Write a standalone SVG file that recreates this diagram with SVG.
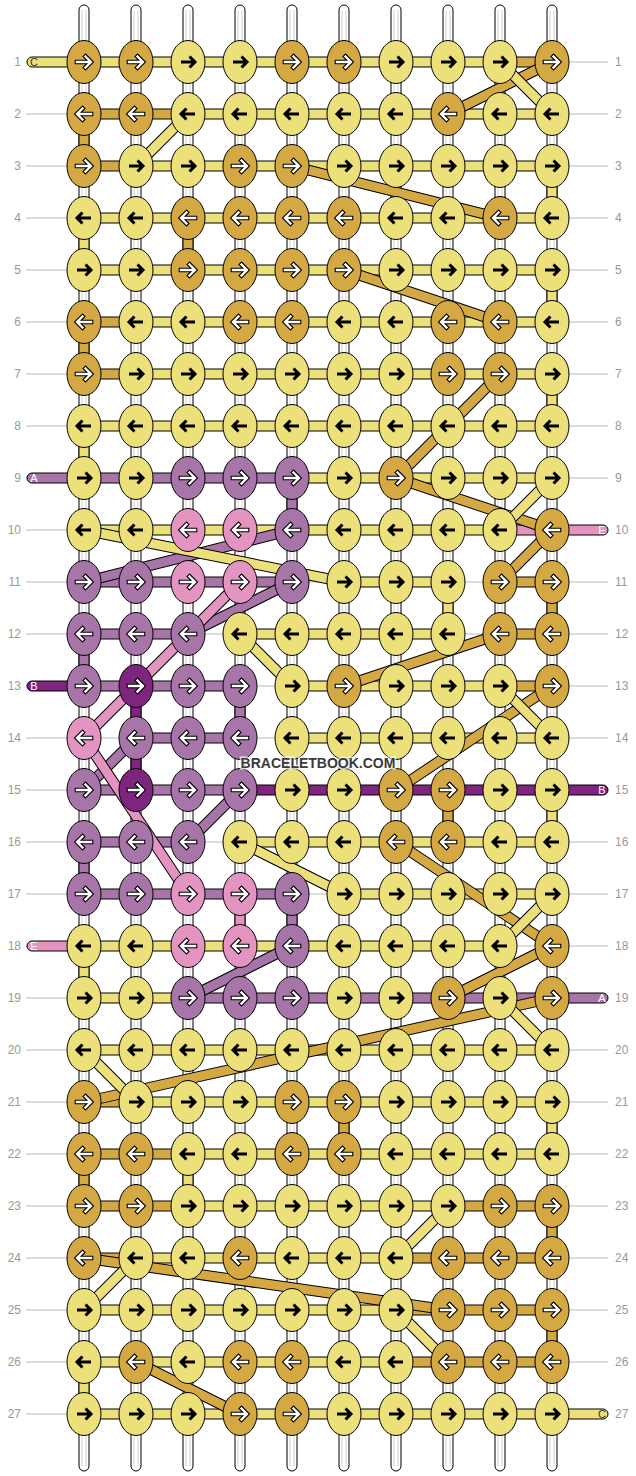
<svg xmlns="http://www.w3.org/2000/svg" width="636" height="1476" viewBox="0 0 636 1476">
<style>
.gl{stroke:#bbb;stroke-width:1}
.rl{font-family:"Liberation Sans",Arial,sans-serif;font-size:12px;fill:#999}
.rr{font-family:"Liberation Sans",Arial,sans-serif;font-size:12px;fill:#999}
.rl{text-anchor:end}
.st{fill:#fff;stroke:#000;stroke-width:1}
.si{stroke:#d2d2d2;stroke-width:1}
.b{stroke:#000;stroke-width:1}
.y{fill:#ECE07B}.g{fill:#D4A843}.p{fill:#A875A8}.d{fill:#7F2580}.k{fill:#E394C0}
.o{fill:none;stroke:#000;stroke-width:11}
.dy{fill:none;stroke:#ECE07B;stroke-width:9}
.dg{fill:none;stroke:#D4A843;stroke-width:9}
.dp{fill:none;stroke:#A875A8;stroke-width:9}
.dk{fill:none;stroke:#E394C0;stroke-width:9}
.ab{fill:none;stroke:#000;stroke-width:3}
.wo{fill:none;stroke:#000;stroke-width:4.6;stroke-linecap:square}
.wi{fill:none;stroke:#fff;stroke-width:2.4;stroke-linecap:square}
.lt{font-family:"Liberation Sans",Arial,sans-serif;font-size:11px;text-anchor:middle}
.wm{font-family:"Liberation Sans",Arial,sans-serif;font-size:14px;font-weight:bold;fill:#3a3a3a;text-anchor:middle;stroke:#fff;stroke-width:3;stroke-opacity:0.75;paint-order:stroke}
</style>
<defs>
<ellipse id="el" rx="17" ry="21.5" stroke="#000" stroke-width="1"/>
<path id="ar" d="M-7,0H6M1.5,-5.5L7,0L1.5,5.5"/>
<path id="al" d="M7,0H-6M-1.5,-5.5L-7,0L-1.5,5.5"/>
<g id="YR"><use href="#el" class="y"/><use href="#ar" class="ab"/></g>
<g id="YL"><use href="#el" class="y"/><use href="#al" class="ab"/></g>
<g id="GR"><use href="#el" class="g"/><use href="#ar" class="wo"/><use href="#ar" class="wi"/></g>
<g id="GL"><use href="#el" class="g"/><use href="#al" class="wo"/><use href="#al" class="wi"/></g>
<g id="PR"><use href="#el" class="p"/><use href="#ar" class="wo"/><use href="#ar" class="wi"/></g>
<g id="PL"><use href="#el" class="p"/><use href="#al" class="wo"/><use href="#al" class="wi"/></g>
<g id="DR"><use href="#el" class="d"/><use href="#ar" class="wo"/><use href="#ar" class="wi"/></g>
<g id="DL"><use href="#el" class="d"/><use href="#al" class="wo"/><use href="#al" class="wi"/></g>
<g id="KR"><use href="#el" class="k"/><use href="#ar" class="wo"/><use href="#ar" class="wi"/></g>
<g id="KL"><use href="#el" class="k"/><use href="#al" class="wo"/><use href="#al" class="wi"/></g>
</defs>
<rect width="636" height="1476" fill="#fff"/>
<g id="guides">
<path class="gl" d="M26,62H608M26,114H608M26,166H608M26,218H608M26,270H608M26,322H608M26,374H608M26,426H608M26,478H608M26,530H608M26,582H608M26,634H608M26,686H608M26,738H608M26,790H608M26,842H608M26,894H608M26,946H608M26,998H608M26,1050H608M26,1102H608M26,1154H608M26,1206H608M26,1258H608M26,1310H608M26,1362H608M26,1414H608"/>
</g>
<g id="row-labels">
<text class="rl" x="21" y="66.3">1</text><text class="rl" x="21" y="118.3">2</text><text class="rl" x="21" y="170.3">3</text><text class="rl" x="21" y="222.3">4</text><text class="rl" x="21" y="274.3">5</text><text class="rl" x="21" y="326.3">6</text><text class="rl" x="21" y="378.3">7</text><text class="rl" x="21" y="430.3">8</text><text class="rl" x="21" y="482.3">9</text><text class="rl" x="21" y="534.3">10</text><text class="rl" x="21" y="586.3">11</text><text class="rl" x="21" y="638.3">12</text><text class="rl" x="21" y="690.3">13</text><text class="rl" x="21" y="742.3">14</text><text class="rl" x="21" y="794.3">15</text><text class="rl" x="21" y="846.3">16</text><text class="rl" x="21" y="898.3">17</text><text class="rl" x="21" y="950.3">18</text><text class="rl" x="21" y="1002.3">19</text><text class="rl" x="21" y="1054.3">20</text><text class="rl" x="21" y="1106.3">21</text><text class="rl" x="21" y="1158.3">22</text><text class="rl" x="21" y="1210.3">23</text><text class="rl" x="21" y="1262.3">24</text><text class="rl" x="21" y="1314.3">25</text><text class="rl" x="21" y="1366.3">26</text><text class="rl" x="21" y="1418.3">27</text>
<text class="rr" x="615" y="66.3">1</text><text class="rr" x="615" y="118.3">2</text><text class="rr" x="615" y="170.3">3</text><text class="rr" x="615" y="222.3">4</text><text class="rr" x="615" y="274.3">5</text><text class="rr" x="615" y="326.3">6</text><text class="rr" x="615" y="378.3">7</text><text class="rr" x="615" y="430.3">8</text><text class="rr" x="615" y="482.3">9</text><text class="rr" x="615" y="534.3">10</text><text class="rr" x="615" y="586.3">11</text><text class="rr" x="615" y="638.3">12</text><text class="rr" x="615" y="690.3">13</text><text class="rr" x="615" y="742.3">14</text><text class="rr" x="615" y="794.3">15</text><text class="rr" x="615" y="846.3">16</text><text class="rr" x="615" y="898.3">17</text><text class="rr" x="615" y="950.3">18</text><text class="rr" x="615" y="1002.3">19</text><text class="rr" x="615" y="1054.3">20</text><text class="rr" x="615" y="1106.3">21</text><text class="rr" x="615" y="1158.3">22</text><text class="rr" x="615" y="1210.3">23</text><text class="rr" x="615" y="1262.3">24</text><text class="rr" x="615" y="1314.3">25</text><text class="rr" x="615" y="1366.3">26</text><text class="rr" x="615" y="1418.3">27</text>
</g>
<g id="base-strings">
<rect class="st" x="79" y="5" width="10" height="1466" rx="5"/><rect class="st" x="131" y="5" width="10" height="1466" rx="5"/><rect class="st" x="183" y="5" width="10" height="1466" rx="5"/><rect class="st" x="235" y="5" width="10" height="1466" rx="5"/><rect class="st" x="287" y="5" width="10" height="1466" rx="5"/><rect class="st" x="339" y="5" width="10" height="1466" rx="5"/><rect class="st" x="391" y="5" width="10" height="1466" rx="5"/><rect class="st" x="443" y="5" width="10" height="1466" rx="5"/><rect class="st" x="495" y="5" width="10" height="1466" rx="5"/><rect class="st" x="547" y="5" width="10" height="1466" rx="5"/>
<path class="si" d="M82,10V1466M86,10V1466M134,10V1466M138,10V1466M186,10V1466M190,10V1466M238,10V1466M242,10V1466M290,10V1466M294,10V1466M342,10V1466M346,10V1466M394,10V1466M398,10V1466M446,10V1466M450,10V1466M498,10V1466M502,10V1466M550,10V1466M554,10V1466"/>
</g>
<g id="connectors">
<rect class="b y" x="27" y="57" width="62" height="10" rx="5"/>
<rect class="b p" x="27" y="473" width="62" height="10" rx="5"/>
<rect class="b d" x="27" y="681" width="62" height="10" rx="5"/>
<rect class="b k" x="27" y="941" width="62" height="10" rx="5"/>
<rect class="b k" x="547" y="525" width="61" height="10" rx="5"/>
<rect class="b d" x="547" y="785" width="61" height="10" rx="5"/>
<rect class="b p" x="547" y="993" width="61" height="10" rx="5"/>
<rect class="b y" x="547" y="1409" width="61" height="10" rx="5"/>
<rect class="b y" x="84" y="57" width="416" height="10"/><rect class="b g" x="500" y="57" width="52" height="10"/>
<rect class="b g" x="84" y="109" width="104" height="10"/><rect class="b y" x="188" y="109" width="364" height="10"/>
<rect class="b g" x="84" y="161" width="52" height="10"/><rect class="b y" x="136" y="161" width="416" height="10"/>
<rect class="b y" x="84" y="213" width="468" height="10"/>
<rect class="b y" x="84" y="265" width="468" height="10"/>
<rect class="b g" x="84" y="317" width="52" height="10"/><rect class="b y" x="136" y="317" width="416" height="10"/>
<rect class="b g" x="84" y="369" width="52" height="10"/><rect class="b y" x="136" y="369" width="416" height="10"/>
<rect class="b y" x="84" y="421" width="468" height="10"/>
<rect class="b p" x="84" y="473" width="208" height="10"/><rect class="b y" x="292" y="473" width="260" height="10"/>
<rect class="b y" x="84" y="525" width="416" height="10"/><rect class="b k" x="500" y="525" width="52" height="10"/>
<rect class="b p" x="84" y="577" width="208" height="10"/><rect class="b y" x="344" y="577" width="104" height="10"/><rect class="b g" x="500" y="577" width="52" height="10"/>
<rect class="b p" x="84" y="629" width="104" height="10"/><rect class="b y" x="240" y="629" width="208" height="10"/><rect class="b g" x="500" y="629" width="52" height="10"/>
<rect class="b p" x="84" y="681" width="156" height="10"/><rect class="b y" x="292" y="681" width="208" height="10"/><rect class="b g" x="500" y="681" width="52" height="10"/>
<rect class="b p" x="136" y="733" width="104" height="10"/><rect class="b y" x="292" y="733" width="260" height="10"/>
<rect class="b p" x="84" y="785" width="156" height="10"/><rect class="b d" x="240" y="785" width="312" height="10"/>
<rect class="b p" x="84" y="837" width="104" height="10"/><rect class="b y" x="240" y="837" width="312" height="10"/>
<rect class="b p" x="84" y="889" width="208" height="10"/><rect class="b y" x="344" y="889" width="208" height="10"/>
<rect class="b y" x="84" y="941" width="416" height="10"/>
<rect class="b y" x="84" y="993" width="104" height="10"/><rect class="b p" x="188" y="993" width="364" height="10"/>
<rect class="b y" x="84" y="1045" width="468" height="10"/>
<rect class="b g" x="84" y="1097" width="52" height="10"/><rect class="b y" x="136" y="1097" width="416" height="10"/>
<rect class="b g" x="84" y="1149" width="104" height="10"/><rect class="b y" x="188" y="1149" width="364" height="10"/>
<rect class="b g" x="84" y="1201" width="104" height="10"/><rect class="b y" x="188" y="1201" width="260" height="10"/><rect class="b g" x="448" y="1201" width="104" height="10"/>
<rect class="b g" x="84" y="1253" width="52" height="10"/><rect class="b y" x="136" y="1253" width="260" height="10"/><rect class="b g" x="396" y="1253" width="156" height="10"/>
<rect class="b y" x="84" y="1305" width="312" height="10"/><rect class="b g" x="396" y="1305" width="156" height="10"/>
<rect class="b y" x="84" y="1357" width="312" height="10"/><rect class="b g" x="396" y="1357" width="156" height="10"/>
<rect class="b y" x="84" y="1409" width="468" height="10"/>
<rect class="b g" x="79" y="114" width="10" height="52"/>
<rect class="b y" x="547" y="166" width="10" height="52"/>
<rect class="b y" x="79" y="218" width="10" height="52"/><rect class="b g" x="183" y="218" width="10" height="52"/>
<rect class="b y" x="547" y="270" width="10" height="52"/>
<rect class="b g" x="79" y="322" width="10" height="52"/>
<rect class="b y" x="547" y="374" width="10" height="52"/>
<rect class="b y" x="79" y="426" width="10" height="52"/>
<rect class="b p" x="287" y="478" width="10" height="52"/>
<rect class="b y" x="443" y="582" width="10" height="52"/><rect class="b g" x="547" y="582" width="10" height="52"/>
<rect class="b p" x="79" y="634" width="10" height="52"/>
<rect class="b d" x="131" y="686" width="10" height="52"/><rect class="b p" x="235" y="686" width="10" height="52"/>
<rect class="b d" x="131" y="738" width="10" height="52"/>
<rect class="b g" x="443" y="790" width="10" height="52"/><rect class="b y" x="547" y="790" width="10" height="52"/>
<rect class="b p" x="79" y="842" width="10" height="52"/>
<rect class="b k" x="235" y="894" width="10" height="52"/><rect class="b p" x="287" y="894" width="10" height="52"/>
<rect class="b y" x="79" y="946" width="10" height="52"/>
<rect class="b g" x="339" y="1102" width="10" height="52"/><rect class="b y" x="547" y="1102" width="10" height="52"/>
<rect class="b g" x="79" y="1154" width="10" height="52"/><rect class="b y" x="183" y="1154" width="10" height="52"/>
<rect class="b g" x="547" y="1206" width="10" height="52"/>
<rect class="b g" x="547" y="1310" width="10" height="52"/>
<rect class="b y" x="79" y="1362" width="10" height="52"/>
<path class="o" d="M188,114L136,166"/><path class="dy" d="M188,114L136,166"/>
<path class="o" d="M552,62L448,114"/><path class="dg" d="M552,62L448,114"/>
<path class="o" d="M500,62L552,114"/><path class="dy" d="M500,62L552,114"/>
<path class="o" d="M292,166L500,218"/><path class="dg" d="M292,166L500,218"/>
<path class="o" d="M344,270L500,322"/><path class="dg" d="M344,270L500,322"/>
<path class="o" d="M500,374L396,478"/><path class="dg" d="M500,374L396,478"/>
<path class="o" d="M396,478L552,530"/><path class="dg" d="M396,478L552,530"/>
<path class="o" d="M500,530L552,478"/><path class="dy" d="M500,530L552,478"/>
<path class="o" d="M552,530L500,582"/><path class="dg" d="M552,530L500,582"/>
<path class="o" d="M84,582L292,530"/><path class="dp" d="M84,582L292,530"/>
<path class="o" d="M84,530L344,582"/><path class="dy" d="M84,530L344,582"/>
<path class="o" d="M188,634L292,582"/><path class="dp" d="M188,634L292,582"/>
<path class="o" d="M84,738L240,582"/><path class="dk" d="M84,738L240,582"/>
<path class="o" d="M240,634L292,686"/><path class="dy" d="M240,634L292,686"/>
<path class="o" d="M500,634L344,686"/><path class="dg" d="M500,634L344,686"/>
<path class="o" d="M552,686L396,790"/><path class="dg" d="M552,686L396,790"/>
<path class="o" d="M500,686L552,738"/><path class="dy" d="M500,686L552,738"/>
<path class="o" d="M84,790L136,738"/><path class="dp" d="M84,790L136,738"/>
<path class="o" d="M84,738L188,894"/><path class="dk" d="M84,738L188,894"/>
<path class="o" d="M188,842L240,790"/><path class="dp" d="M188,842L240,790"/>
<path class="o" d="M240,842L344,894"/><path class="dy" d="M240,842L344,894"/>
<path class="o" d="M396,842L552,946"/><path class="dg" d="M396,842L552,946"/>
<path class="o" d="M500,946L552,894"/><path class="dy" d="M500,946L552,894"/>
<path class="o" d="M552,946L448,998"/><path class="dg" d="M552,946L448,998"/>
<path class="o" d="M188,998L292,946"/><path class="dp" d="M188,998L292,946"/>
<path class="o" d="M552,998L84,1102"/><path class="dg" d="M552,998L84,1102"/>
<path class="o" d="M500,998L552,1050"/><path class="dy" d="M500,998L552,1050"/>
<path class="o" d="M84,1050L136,1102"/><path class="dy" d="M84,1050L136,1102"/>
<path class="o" d="M448,1206L396,1258"/><path class="dy" d="M448,1206L396,1258"/>
<path class="o" d="M84,1258L448,1310"/><path class="dg" d="M84,1258L448,1310"/>
<path class="o" d="M84,1310L136,1258"/><path class="dy" d="M84,1310L136,1258"/>
<path class="o" d="M396,1310L448,1362"/><path class="dy" d="M396,1310L448,1362"/>
<path class="o" d="M136,1362L240,1414"/><path class="dg" d="M136,1362L240,1414"/>
</g>
<g id="string-labels">
<text class="lt" x="34" y="66" fill="#333">C</text>
<text class="lt" x="34" y="482" fill="#fff">A</text>
<text class="lt" x="34" y="690" fill="#fff">B</text>
<text class="lt" x="34" y="950" fill="#fff">E</text>
<text class="lt" x="602" y="534" fill="#fff">E</text>
<text class="lt" x="602" y="794" fill="#fff">B</text>
<text class="lt" x="602" y="1002" fill="#fff">A</text>
<text class="lt" x="602" y="1418" fill="#333">C</text>
</g>
<g id="row1"><use id="k1-1" href="#GR" x="84" y="62"/><use id="k1-2" href="#GR" x="136" y="62"/><use id="k1-3" href="#YR" x="188" y="62"/><use id="k1-4" href="#YR" x="240" y="62"/><use id="k1-5" href="#GR" x="292" y="62"/><use id="k1-6" href="#GR" x="344" y="62"/><use id="k1-7" href="#YR" x="396" y="62"/><use id="k1-8" href="#YR" x="448" y="62"/><use id="k1-9" href="#YR" x="500" y="62"/><use id="k1-10" href="#GR" x="552" y="62"/></g>
<g id="row2"><use id="k2-1" href="#GL" x="84" y="114"/><use id="k2-2" href="#GL" x="136" y="114"/><use id="k2-3" href="#YL" x="188" y="114"/><use id="k2-4" href="#YL" x="240" y="114"/><use id="k2-5" href="#YL" x="292" y="114"/><use id="k2-6" href="#YL" x="344" y="114"/><use id="k2-7" href="#YL" x="396" y="114"/><use id="k2-8" href="#GL" x="448" y="114"/><use id="k2-9" href="#YL" x="500" y="114"/><use id="k2-10" href="#YL" x="552" y="114"/></g>
<g id="row3"><use id="k3-1" href="#GR" x="84" y="166"/><use id="k3-2" href="#YR" x="136" y="166"/><use id="k3-3" href="#YR" x="188" y="166"/><use id="k3-4" href="#GR" x="240" y="166"/><use id="k3-5" href="#GR" x="292" y="166"/><use id="k3-6" href="#YR" x="344" y="166"/><use id="k3-7" href="#YR" x="396" y="166"/><use id="k3-8" href="#YR" x="448" y="166"/><use id="k3-9" href="#YR" x="500" y="166"/><use id="k3-10" href="#YR" x="552" y="166"/></g>
<g id="row4"><use id="k4-1" href="#YL" x="84" y="218"/><use id="k4-2" href="#YL" x="136" y="218"/><use id="k4-3" href="#GL" x="188" y="218"/><use id="k4-4" href="#GL" x="240" y="218"/><use id="k4-5" href="#GL" x="292" y="218"/><use id="k4-6" href="#GL" x="344" y="218"/><use id="k4-7" href="#YL" x="396" y="218"/><use id="k4-8" href="#YL" x="448" y="218"/><use id="k4-9" href="#GL" x="500" y="218"/><use id="k4-10" href="#YL" x="552" y="218"/></g>
<g id="row5"><use id="k5-1" href="#YR" x="84" y="270"/><use id="k5-2" href="#YR" x="136" y="270"/><use id="k5-3" href="#GR" x="188" y="270"/><use id="k5-4" href="#GR" x="240" y="270"/><use id="k5-5" href="#GR" x="292" y="270"/><use id="k5-6" href="#GR" x="344" y="270"/><use id="k5-7" href="#YR" x="396" y="270"/><use id="k5-8" href="#YR" x="448" y="270"/><use id="k5-9" href="#YR" x="500" y="270"/><use id="k5-10" href="#YR" x="552" y="270"/></g>
<g id="row6"><use id="k6-1" href="#GL" x="84" y="322"/><use id="k6-2" href="#YL" x="136" y="322"/><use id="k6-3" href="#YL" x="188" y="322"/><use id="k6-4" href="#GL" x="240" y="322"/><use id="k6-5" href="#GL" x="292" y="322"/><use id="k6-6" href="#YL" x="344" y="322"/><use id="k6-7" href="#YL" x="396" y="322"/><use id="k6-8" href="#GL" x="448" y="322"/><use id="k6-9" href="#GL" x="500" y="322"/><use id="k6-10" href="#YL" x="552" y="322"/></g>
<g id="row7"><use id="k7-1" href="#GR" x="84" y="374"/><use id="k7-2" href="#YR" x="136" y="374"/><use id="k7-3" href="#YR" x="188" y="374"/><use id="k7-4" href="#YR" x="240" y="374"/><use id="k7-5" href="#YR" x="292" y="374"/><use id="k7-6" href="#YR" x="344" y="374"/><use id="k7-7" href="#YR" x="396" y="374"/><use id="k7-8" href="#GR" x="448" y="374"/><use id="k7-9" href="#GR" x="500" y="374"/><use id="k7-10" href="#YR" x="552" y="374"/></g>
<g id="row8"><use id="k8-1" href="#YL" x="84" y="426"/><use id="k8-2" href="#YL" x="136" y="426"/><use id="k8-3" href="#YL" x="188" y="426"/><use id="k8-4" href="#YL" x="240" y="426"/><use id="k8-5" href="#YL" x="292" y="426"/><use id="k8-6" href="#YL" x="344" y="426"/><use id="k8-7" href="#YL" x="396" y="426"/><use id="k8-8" href="#YL" x="448" y="426"/><use id="k8-9" href="#YL" x="500" y="426"/><use id="k8-10" href="#YL" x="552" y="426"/></g>
<g id="row9"><use id="k9-1" href="#YR" x="84" y="478"/><use id="k9-2" href="#YR" x="136" y="478"/><use id="k9-3" href="#PR" x="188" y="478"/><use id="k9-4" href="#PR" x="240" y="478"/><use id="k9-5" href="#PR" x="292" y="478"/><use id="k9-6" href="#YR" x="344" y="478"/><use id="k9-7" href="#GR" x="396" y="478"/><use id="k9-8" href="#YR" x="448" y="478"/><use id="k9-9" href="#YR" x="500" y="478"/><use id="k9-10" href="#YR" x="552" y="478"/></g>
<g id="row10"><use id="k10-1" href="#YL" x="84" y="530"/><use id="k10-2" href="#YL" x="136" y="530"/><use id="k10-3" href="#KL" x="188" y="530"/><use id="k10-4" href="#KL" x="240" y="530"/><use id="k10-5" href="#PL" x="292" y="530"/><use id="k10-6" href="#YL" x="344" y="530"/><use id="k10-7" href="#YL" x="396" y="530"/><use id="k10-8" href="#YL" x="448" y="530"/><use id="k10-9" href="#YL" x="500" y="530"/><use id="k10-10" href="#GL" x="552" y="530"/></g>
<g id="row11"><use id="k11-1" href="#PR" x="84" y="582"/><use id="k11-2" href="#PR" x="136" y="582"/><use id="k11-3" href="#KR" x="188" y="582"/><use id="k11-4" href="#KR" x="240" y="582"/><use id="k11-5" href="#PR" x="292" y="582"/><use id="k11-6" href="#YR" x="344" y="582"/><use id="k11-7" href="#YR" x="396" y="582"/><use id="k11-8" href="#YR" x="448" y="582"/><use id="k11-9" href="#GR" x="500" y="582"/><use id="k11-10" href="#GR" x="552" y="582"/></g>
<g id="row12"><use id="k12-1" href="#PL" x="84" y="634"/><use id="k12-2" href="#PL" x="136" y="634"/><use id="k12-3" href="#PL" x="188" y="634"/><use id="k12-4" href="#YL" x="240" y="634"/><use id="k12-5" href="#YL" x="292" y="634"/><use id="k12-6" href="#YL" x="344" y="634"/><use id="k12-7" href="#YL" x="396" y="634"/><use id="k12-8" href="#YL" x="448" y="634"/><use id="k12-9" href="#GL" x="500" y="634"/><use id="k12-10" href="#GL" x="552" y="634"/></g>
<g id="row13"><use id="k13-1" href="#PR" x="84" y="686"/><use id="k13-2" href="#DR" x="136" y="686"/><use id="k13-3" href="#PR" x="188" y="686"/><use id="k13-4" href="#PR" x="240" y="686"/><use id="k13-5" href="#YR" x="292" y="686"/><use id="k13-6" href="#GR" x="344" y="686"/><use id="k13-7" href="#YR" x="396" y="686"/><use id="k13-8" href="#YR" x="448" y="686"/><use id="k13-9" href="#YR" x="500" y="686"/><use id="k13-10" href="#GR" x="552" y="686"/></g>
<g id="row14"><use id="k14-1" href="#KL" x="84" y="738"/><use id="k14-2" href="#PL" x="136" y="738"/><use id="k14-3" href="#PL" x="188" y="738"/><use id="k14-4" href="#PL" x="240" y="738"/><use id="k14-5" href="#YL" x="292" y="738"/><use id="k14-6" href="#YL" x="344" y="738"/><use id="k14-7" href="#YL" x="396" y="738"/><use id="k14-8" href="#YL" x="448" y="738"/><use id="k14-9" href="#YL" x="500" y="738"/><use id="k14-10" href="#YL" x="552" y="738"/></g>
<g id="row15"><use id="k15-1" href="#PR" x="84" y="790"/><use id="k15-2" href="#DR" x="136" y="790"/><use id="k15-3" href="#PR" x="188" y="790"/><use id="k15-4" href="#PR" x="240" y="790"/><use id="k15-5" href="#YR" x="292" y="790"/><use id="k15-6" href="#YR" x="344" y="790"/><use id="k15-7" href="#GR" x="396" y="790"/><use id="k15-8" href="#GR" x="448" y="790"/><use id="k15-9" href="#YR" x="500" y="790"/><use id="k15-10" href="#YR" x="552" y="790"/></g>
<g id="row16"><use id="k16-1" href="#PL" x="84" y="842"/><use id="k16-2" href="#PL" x="136" y="842"/><use id="k16-3" href="#PL" x="188" y="842"/><use id="k16-4" href="#YL" x="240" y="842"/><use id="k16-5" href="#YL" x="292" y="842"/><use id="k16-6" href="#YL" x="344" y="842"/><use id="k16-7" href="#GL" x="396" y="842"/><use id="k16-8" href="#GL" x="448" y="842"/><use id="k16-9" href="#YL" x="500" y="842"/><use id="k16-10" href="#YL" x="552" y="842"/></g>
<g id="row17"><use id="k17-1" href="#PR" x="84" y="894"/><use id="k17-2" href="#PR" x="136" y="894"/><use id="k17-3" href="#KR" x="188" y="894"/><use id="k17-4" href="#KR" x="240" y="894"/><use id="k17-5" href="#PR" x="292" y="894"/><use id="k17-6" href="#YR" x="344" y="894"/><use id="k17-7" href="#YR" x="396" y="894"/><use id="k17-8" href="#YR" x="448" y="894"/><use id="k17-9" href="#YR" x="500" y="894"/><use id="k17-10" href="#YR" x="552" y="894"/></g>
<g id="row18"><use id="k18-1" href="#YL" x="84" y="946"/><use id="k18-2" href="#YL" x="136" y="946"/><use id="k18-3" href="#KL" x="188" y="946"/><use id="k18-4" href="#KL" x="240" y="946"/><use id="k18-5" href="#PL" x="292" y="946"/><use id="k18-6" href="#YL" x="344" y="946"/><use id="k18-7" href="#YL" x="396" y="946"/><use id="k18-8" href="#YL" x="448" y="946"/><use id="k18-9" href="#YL" x="500" y="946"/><use id="k18-10" href="#GL" x="552" y="946"/></g>
<g id="row19"><use id="k19-1" href="#YR" x="84" y="998"/><use id="k19-2" href="#YR" x="136" y="998"/><use id="k19-3" href="#PR" x="188" y="998"/><use id="k19-4" href="#PR" x="240" y="998"/><use id="k19-5" href="#PR" x="292" y="998"/><use id="k19-6" href="#YR" x="344" y="998"/><use id="k19-7" href="#YR" x="396" y="998"/><use id="k19-8" href="#GR" x="448" y="998"/><use id="k19-9" href="#YR" x="500" y="998"/><use id="k19-10" href="#GR" x="552" y="998"/></g>
<g id="row20"><use id="k20-1" href="#YL" x="84" y="1050"/><use id="k20-2" href="#YL" x="136" y="1050"/><use id="k20-3" href="#YL" x="188" y="1050"/><use id="k20-4" href="#YL" x="240" y="1050"/><use id="k20-5" href="#YL" x="292" y="1050"/><use id="k20-6" href="#YL" x="344" y="1050"/><use id="k20-7" href="#YL" x="396" y="1050"/><use id="k20-8" href="#YL" x="448" y="1050"/><use id="k20-9" href="#YL" x="500" y="1050"/><use id="k20-10" href="#YL" x="552" y="1050"/></g>
<g id="row21"><use id="k21-1" href="#GR" x="84" y="1102"/><use id="k21-2" href="#YR" x="136" y="1102"/><use id="k21-3" href="#YR" x="188" y="1102"/><use id="k21-4" href="#YR" x="240" y="1102"/><use id="k21-5" href="#GR" x="292" y="1102"/><use id="k21-6" href="#GR" x="344" y="1102"/><use id="k21-7" href="#YR" x="396" y="1102"/><use id="k21-8" href="#YR" x="448" y="1102"/><use id="k21-9" href="#YR" x="500" y="1102"/><use id="k21-10" href="#YR" x="552" y="1102"/></g>
<g id="row22"><use id="k22-1" href="#GL" x="84" y="1154"/><use id="k22-2" href="#GL" x="136" y="1154"/><use id="k22-3" href="#YL" x="188" y="1154"/><use id="k22-4" href="#YL" x="240" y="1154"/><use id="k22-5" href="#GL" x="292" y="1154"/><use id="k22-6" href="#GL" x="344" y="1154"/><use id="k22-7" href="#YL" x="396" y="1154"/><use id="k22-8" href="#YL" x="448" y="1154"/><use id="k22-9" href="#YL" x="500" y="1154"/><use id="k22-10" href="#YL" x="552" y="1154"/></g>
<g id="row23"><use id="k23-1" href="#GR" x="84" y="1206"/><use id="k23-2" href="#GR" x="136" y="1206"/><use id="k23-3" href="#YR" x="188" y="1206"/><use id="k23-4" href="#YR" x="240" y="1206"/><use id="k23-5" href="#YR" x="292" y="1206"/><use id="k23-6" href="#YR" x="344" y="1206"/><use id="k23-7" href="#YR" x="396" y="1206"/><use id="k23-8" href="#YR" x="448" y="1206"/><use id="k23-9" href="#GR" x="500" y="1206"/><use id="k23-10" href="#GR" x="552" y="1206"/></g>
<g id="row24"><use id="k24-1" href="#GL" x="84" y="1258"/><use id="k24-2" href="#YL" x="136" y="1258"/><use id="k24-3" href="#YL" x="188" y="1258"/><use id="k24-4" href="#GL" x="240" y="1258"/><use id="k24-5" href="#YL" x="292" y="1258"/><use id="k24-6" href="#YL" x="344" y="1258"/><use id="k24-7" href="#YL" x="396" y="1258"/><use id="k24-8" href="#GL" x="448" y="1258"/><use id="k24-9" href="#GL" x="500" y="1258"/><use id="k24-10" href="#GL" x="552" y="1258"/></g>
<g id="row25"><use id="k25-1" href="#YR" x="84" y="1310"/><use id="k25-2" href="#YR" x="136" y="1310"/><use id="k25-3" href="#YR" x="188" y="1310"/><use id="k25-4" href="#YR" x="240" y="1310"/><use id="k25-5" href="#YR" x="292" y="1310"/><use id="k25-6" href="#YR" x="344" y="1310"/><use id="k25-7" href="#YR" x="396" y="1310"/><use id="k25-8" href="#GR" x="448" y="1310"/><use id="k25-9" href="#GR" x="500" y="1310"/><use id="k25-10" href="#GR" x="552" y="1310"/></g>
<g id="row26"><use id="k26-1" href="#YL" x="84" y="1362"/><use id="k26-2" href="#GL" x="136" y="1362"/><use id="k26-3" href="#YL" x="188" y="1362"/><use id="k26-4" href="#GL" x="240" y="1362"/><use id="k26-5" href="#GL" x="292" y="1362"/><use id="k26-6" href="#YL" x="344" y="1362"/><use id="k26-7" href="#YL" x="396" y="1362"/><use id="k26-8" href="#GL" x="448" y="1362"/><use id="k26-9" href="#GL" x="500" y="1362"/><use id="k26-10" href="#GL" x="552" y="1362"/></g>
<g id="row27"><use id="k27-1" href="#YR" x="84" y="1414"/><use id="k27-2" href="#YR" x="136" y="1414"/><use id="k27-3" href="#YR" x="188" y="1414"/><use id="k27-4" href="#GR" x="240" y="1414"/><use id="k27-5" href="#GR" x="292" y="1414"/><use id="k27-6" href="#YR" x="344" y="1414"/><use id="k27-7" href="#YR" x="396" y="1414"/><use id="k27-8" href="#YR" x="448" y="1414"/><use id="k27-9" href="#YR" x="500" y="1414"/><use id="k27-10" href="#YR" x="552" y="1414"/></g>
<g id="watermark"><text class="wm" x="318" y="768">BRACELETBOOK.COM</text></g>
</svg>
